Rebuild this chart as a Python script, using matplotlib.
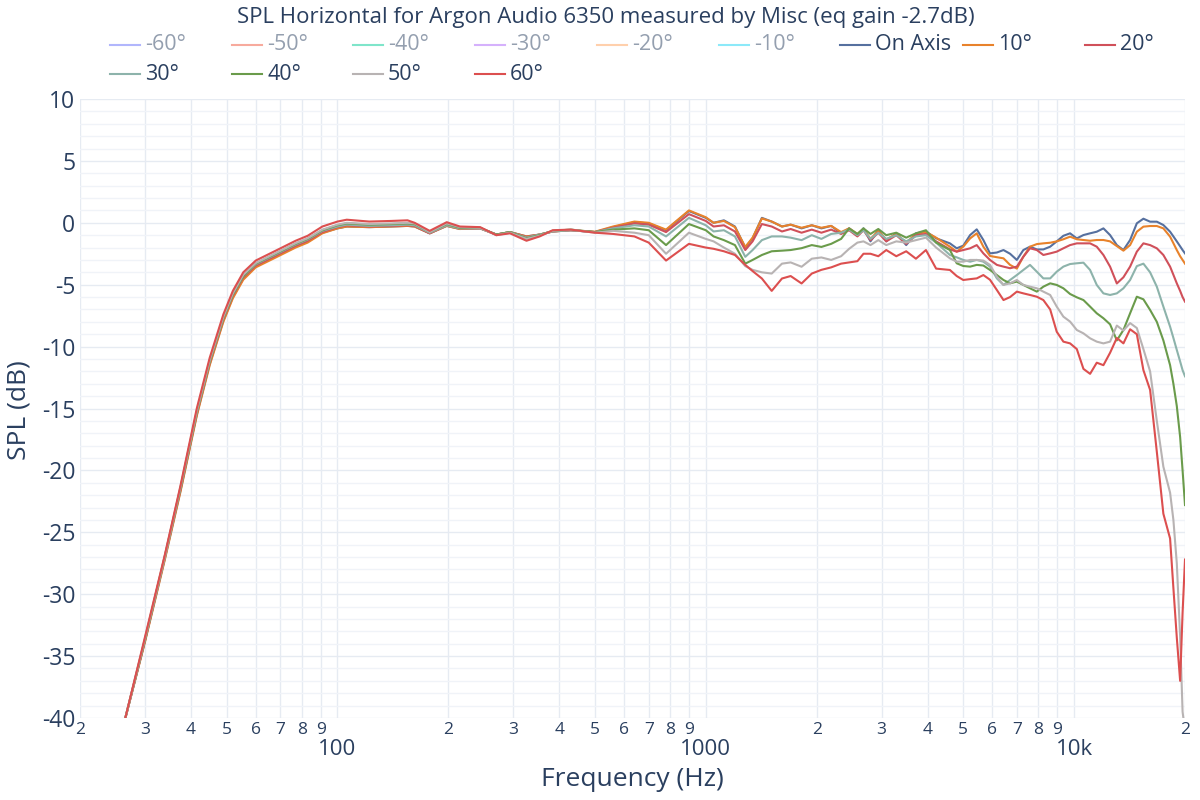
import matplotlib
matplotlib.use("Agg")
import matplotlib.pyplot as plt
from matplotlib.lines import Line2D

plt.rcParams['font.family'] = ['Open Sans', 'DejaVu Sans']

TITLE = "SPL Horizontal for Argon Audio 6350 measured by Misc (eq gain -2.7dB)"
X_LABEL = "Frequency (Hz)"
Y_LABEL = "SPL (dB)"

freq = [
    26.3, 30, 34, 37.5, 41.5, 45, 49, 52, 55.5, 60,
    68, 77, 83, 91, 100, 106, 122, 140, 155, 162,
    178, 198, 215, 244, 270, 294, 326, 354, 384, 430,
    500, 560, 640, 700, 780, 900, 1000, 1050, 1120, 1200,
    1280, 1340, 1420, 1510, 1610, 1700, 1820, 1940, 2060, 2190,
    2330, 2450, 2580, 2680, 2800, 2940, 3090, 3290, 3500, 3720,
    3960, 4220,
    4600, 4800, 5000, 5220, 5440, 5670, 5910, 6170, 6430, 6700,
    6990, 7280, 7590, 7920, 8250, 8610, 8970, 9350, 9750, 10170,
    10600, 11050, 11520, 12010, 12520, 13060, 13610, 14190, 14800, 15420,
    16080,
    16770, 17470, 18220, 18600, 19000, 19400, 19700, 20000,
]

on_axis = [
    -40.5, -33.8, -27.1, -21.6, -15.5, -11.4, -7.9, -6.0, -4.5, -3.5,
    -2.7, -1.9, -1.5, -0.8, -0.45, -0.3, -0.35, -0.3, -0.25, -0.3,
    -0.85, -0.25, -0.5, -0.45, -0.95, -0.75, -1.1, -0.95, -0.7, -0.6,
    -0.75, -0.35, 0.05, -0.05, -0.6, 0.95, 0.4, 0.0, 0.2, -0.3,
    -2.0, -1.25, 0.4, 0.1, -0.3, -0.15, -0.45, -0.2, -0.45, -0.25,
    -0.85, -0.45, -1.0, -0.45, -1.5, -0.6, -1.5, -0.85, -1.8, -0.85,
    -0.7, -1.25,
    -1.66, -2.06, -1.85, -0.99, -0.53, -1.39, -2.47, -2.4, -2.2, -2.5,
    -3.0, -2.2, -1.93, -2.15, -2.15, -1.93, -1.5, -1.05, -0.85, -1.26,
    -0.99, -0.85, -0.72, -0.45, -0.99, -1.8, -2.2, -1.39, -0.04, 0.33,
    0.09,
    0.09, -0.18, -0.72, -1.1, -1.5, -1.9, -2.2, -2.47,
]

deg10 = [
    -40.5, -33.9, -27.2, -21.7, -15.6, -11.5, -8.0, -6.1, -4.6, -3.6,
    -2.8, -2.0, -1.6, -0.85, -0.45, -0.3, -0.35, -0.3, -0.25, -0.3,
    -0.85, -0.25, -0.5, -0.45, -0.95, -0.75, -1.1, -0.95, -0.7, -0.6,
    -0.72, -0.3, 0.1, 0.0, -0.55, 1.0, 0.45, 0.0, 0.15, -0.35,
    -1.95, -1.2, 0.35, 0.1, -0.3, -0.15, -0.4, -0.2, -0.4, -0.25,
    -0.75, -0.45, -0.9, -0.5, -1.3, -0.65, -1.35, -0.9, -1.6, -0.9,
    -0.75, -1.2,
    -1.93, -2.33, -1.93, -1.26, -0.85, -1.93, -2.68, -2.78, -2.87, -3.4,
    -3.7, -2.74, -1.93, -1.72, -1.66, -1.61, -1.5, -1.33, -1.12, -1.33,
    -1.39, -1.45, -1.39, -1.39, -1.5, -1.88, -2.25, -1.8, -0.72, -0.31,
    -0.26,
    -0.26, -0.45, -1.12, -1.65, -2.2, -2.7, -3.0, -3.3,
]

deg20 = [
    -40.5, -33.8, -27.0, -21.5, -15.4, -11.3, -7.8, -5.9, -4.4, -3.45,
    -2.65, -1.85, -1.45, -0.75, -0.35, -0.2, -0.3, -0.25, -0.2, -0.25,
    -0.85, -0.2, -0.45, -0.45, -0.95, -0.75, -1.15, -0.95, -0.7, -0.6,
    -0.75, -0.4, -0.05, -0.15, -0.75, 0.7, 0.15, -0.3, -0.2, -0.7,
    -2.2, -1.5, -0.1, -0.3, -0.7, -0.5, -0.8, -0.55, -0.8, -0.55,
    -0.9, -0.6, -1.1, -0.6, -1.4, -0.8, -1.5, -1.0, -1.7, -1.0,
    -0.9, -1.5,
    -2.15, -2.33, -2.2, -2.06, -1.8, -2.47, -3.0, -3.4, -3.54, -3.67,
    -3.54, -2.74, -2.06, -2.2, -2.6, -2.47, -2.33, -2.06, -1.8, -1.66,
    -1.66, -1.66, -1.93, -2.6, -3.54, -4.9, -4.4, -3.54, -2.33, -1.66,
    -1.8,
    -2.06, -2.6, -3.54, -4.2, -4.89, -5.5, -6.0, -6.37,
]

deg30 = [
    -40.5, -33.7, -27.0, -21.4, -15.3, -11.2, -7.7, -5.8, -4.3, -3.35,
    -2.55, -1.75, -1.35, -0.65, -0.3, -0.15, -0.25, -0.2, -0.15, -0.2,
    -0.8, -0.2, -0.45, -0.45, -0.95, -0.75, -1.2, -0.95, -0.7, -0.6,
    -0.75, -0.45, -0.2, -0.3, -1.1, 0.4, -0.2, -0.7, -0.6, -1.1,
    -2.75, -2.2, -1.4, -1.1, -1.1, -1.2, -1.4, -1.0, -1.3, -0.9,
    -0.8, -0.55, -1.0, -0.6, -1.3, -0.8, -1.3, -1.0, -1.5, -1.1,
    -1.0, -1.6,
    -2.6, -2.79, -3.0, -3.14, -3.0, -3.14, -3.54, -4.49, -5.02, -4.62,
    -4.22, -3.81, -3.4, -3.95, -4.49, -4.49, -3.95, -3.54, -3.33, -3.27,
    -3.22, -3.81, -5.02, -5.7, -5.83, -5.7, -5.29, -4.62, -3.5, -3.3,
    -4.0,
    -5.16, -6.77, -8.39, -9.3, -10.27, -11.2, -11.9, -12.4,
]

deg40 = [
    -40.5, -33.7, -26.9, -21.4, -15.3, -11.2, -7.7, -5.8, -4.3, -3.3,
    -2.5, -1.7, -1.3, -0.6, -0.2, -0.05, -0.15, -0.1, -0.05, -0.1,
    -0.75, -0.1, -0.4, -0.4, -0.95, -0.75, -1.25, -1.0, -0.65, -0.55,
    -0.75, -0.55, -0.45, -0.6, -1.8, -0.1, -0.6, -1.1, -1.4, -1.8,
    -3.3, -3.0, -2.6, -2.3, -2.25, -2.2, -2.05, -1.8, -1.95, -1.7,
    -1.3, -0.45, -0.9, -0.45, -0.9, -0.5, -1.0, -0.8, -1.2, -0.85,
    -0.6, -1.6,
    -2.2, -3.27, -3.49, -3.54, -3.4, -3.45, -3.81, -4.22, -4.62, -4.89,
    -4.75, -5.02, -5.29, -5.56, -5.16, -4.89, -5.02, -5.29, -5.75, -6.02,
    -6.24, -6.77, -7.31, -7.71, -8.2, -9.5, -8.66, -7.31, -5.97, -6.18,
    -7.04,
    -8.0, -9.5, -11.5, -13.0, -14.8, -17.3, -20.0, -22.8,
]

deg50 = [
    -40.5, -33.6, -26.9, -21.3, -15.2, -11.1, -7.6, -5.7, -4.2, -3.25,
    -2.45, -1.65, -1.25, -0.55, -0.15, 0.0, -0.1, -0.05, 0.0, -0.05,
    -0.75, -0.05, -0.35, -0.4, -1.0, -0.8, -1.3, -1.05, -0.65, -0.55,
    -0.8, -0.65, -0.8, -1.0, -2.5, -0.8, -1.3, -1.5, -2.0, -2.5,
    -3.5, -3.8, -4.0, -4.1, -3.3, -3.2, -3.55, -2.9, -2.8, -3.0,
    -2.7, -2.1, -1.6, -1.5, -1.8, -1.4, -1.8, -1.5, -1.6, -1.4,
    -1.2, -2.0,
    -2.87, -3.14, -3.14, -3.0, -3.0, -3.05, -3.4, -4.35, -5.02, -4.89,
    -4.62, -5.02, -5.16, -5.29, -5.56, -5.83, -6.77, -7.58, -7.98, -8.66,
    -8.93, -9.33, -9.6, -9.74, -9.6, -8.3, -8.7, -8.1, -8.5, -10.2,
    -12.0,
    -16.0, -19.7, -21.8, -24.0, -27.5, -33.4, -39.5, -41.0,
]

deg60 = [
    -40.5, -33.5, -26.8, -21.2, -15.0, -10.9, -7.4, -5.5, -4.0, -3.05,
    -2.25, -1.45, -1.05, -0.3, 0.1, 0.25, 0.1, 0.15, 0.2, 0.0,
    -0.65, 0.05, -0.3, -0.35, -1.0, -0.85, -1.45, -1.1, -0.6, -0.55,
    -0.8, -0.9, -1.1, -1.6, -3.05, -1.7, -2.0, -2.1, -2.3, -2.6,
    -3.4, -3.9, -4.5, -5.5, -4.5, -4.3, -4.9, -4.1, -3.8, -3.6,
    -3.3, -3.2, -3.1, -2.5, -2.5, -2.7, -2.2, -2.7, -2.3, -2.9,
    -2.2, -3.7,
    -3.81, -4.3, -4.62, -4.55, -4.49, -4.22, -4.6, -5.43, -6.24, -6.0,
    -5.56, -5.7, -5.83, -5.97, -6.24, -7.0, -8.8, -9.6, -9.74, -10.2,
    -11.8, -12.2, -11.3, -11.5, -10.5, -9.3, -9.74, -8.6, -9.0, -11.9,
    -13.5,
    -18.5, -23.5, -25.5, -29.5, -33.5, -37.0, -31.5, -27.2,
]

hidden_labels = ["-60°", "-50°", "-40°", "-30°", "-20°", "-10°"]
hidden_colors = ["#b1b6fc", "#f7aa9d", "#7fe5ca", "#d5b1fc", "#ffd0ac", "#8ce9f9"]

visible_labels = ["On Axis", "10°", "20°", "30°", "40°", "50°", "60°"]
visible_series = [on_axis, deg10, deg20, deg30, deg40, deg50, deg60]
visible_colors = ["#56709f", "#e8822b", "#d0505a", "#8db3ab", "#6a9b4b", "#b8b3b3", "#dc4f4f"]

x_major = [100, 1000, 10000]
x_major_labels = ["100", "1000", "10k"]
x_minor = [20, 30, 40, 50, 60, 70, 80, 90,
           200, 300, 400, 500, 600, 700, 800, 900,
           2000, 3000, 4000, 5000, 6000, 7000, 8000, 9000, 20000]
x_minor_labels = ["2", "3", "4", "5", "6", "7", "8", "9",
                  "2", "3", "4", "5", "6", "7", "8", "9",
                  "2", "3", "4", "5", "6", "7", "8", "9", "2"]
y_ticks = [-40, -35, -30, -25, -20, -15, -10, -5, 0, 5, 10]

TEXT = "#2a3f5f"
HIDDEN_TEXT = "#949faf"
W, H = 1200, 800

fig = plt.figure(figsize=(12, 8), dpi=100)
fig.patch.set_facecolor("white")
ax = fig.add_axes([80 / W, (H - 718) / H, 1105 / W, 619 / H])
ax.set_xscale("log")
ax.set_xlim(20, 20000)
ax.set_ylim(-40, 10)

for s, c in zip(visible_series, visible_colors):
    ax.plot(freq, s, color=c, lw=1.5, solid_joinstyle="round")

for sp in ax.spines.values():
    sp.set_visible(False)

ax.set_xticks(x_major)
ax.set_xticklabels(x_major_labels)
ax.set_xticks(x_minor, minor=True)
ax.set_xticklabels(x_minor_labels, minor=True)
ax.set_yticks(y_ticks)
ax.set_yticklabels([str(v) for v in y_ticks])
ax.set_yticks(list(range(-40, 11)), minor=True)
ax.tick_params(axis="x", which="major", length=0, pad=15, labelsize=16, labelcolor=TEXT)
ax.tick_params(axis="x", which="minor", length=0, pad=3, labelsize=12.5, labelcolor=TEXT)
ax.tick_params(axis="y", which="major", length=0, pad=3.5, labelsize=16.5, labelcolor=TEXT)
ax.tick_params(axis="y", which="minor", length=0)

ax.set_axisbelow(True)
ax.grid(True, which="major", axis="both", color="#e6ebf2", lw=1.0)
ax.grid(True, which="minor", axis="x", color="#e6ebf2", lw=1.0)
ax.grid(True, which="minor", axis="y", color="#f0f3f8", lw=1.0)

fig.text(606 / W, 1 - 17 / H, TITLE, ha="center", va="center", fontsize=16, color=TEXT)
fig.text(632 / W, 1 - 779 / H, X_LABEL, ha="center", va="center", fontsize=19, color=TEXT)
fig.text(19 / W, 1 - 410 / H, Y_LABEL, ha="center", va="center", rotation=90, fontsize=19, color=TEXT)

row1_x = [110, 232, 353, 475, 597, 719, 840, 963, 1085]
row2_x = [110, 232, 353, 475]
entries = list(zip(hidden_labels, hidden_colors, [HIDDEN_TEXT] * 6)) + \
    list(zip(visible_labels, visible_colors, [TEXT] * 7))
positions = [(x, 45) for x in row1_x] + [(x, 74) for x in row2_x]
for (lab, col, tcol), (px, py) in zip(entries, positions):
    yy = 1 - py / H
    fig.add_artist(Line2D([px / W, (px + 30) / W], [yy, yy], transform=fig.transFigure,
                          color=col, lw=1.5))
    fig.text((px + 35) / W, yy, lab, ha="left", va="center", fontsize=15.5, color=tcol)

fig.savefig("out.png", dpi=100)
